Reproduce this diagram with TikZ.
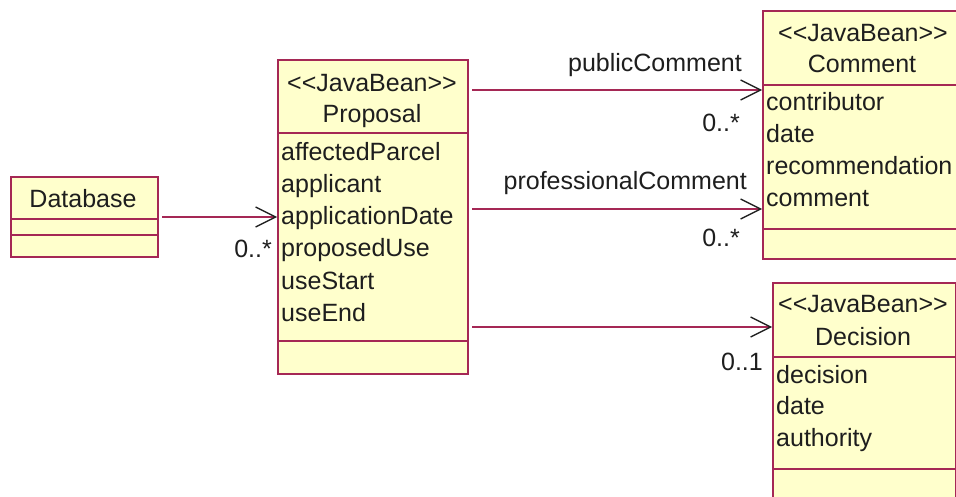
\documentclass[tikz,border=0pt]{standalone}
\usepackage{fontspec}
\setmainfont[Ligatures=NoCommon]{Liberation Sans}
\usetikzlibrary{arrows.meta}
\definecolor{umlred}{RGB}{165,40,85}
\definecolor{umlfill}{RGB}{255,255,204}
\definecolor{umltext}{RGB}{30,30,30}
\newcommand{\stereo}{<{}<JavaBean>{}>}
\begin{document}
\begin{tikzpicture}[x=1pt,y=-1pt,
  box/.style={draw=umlred, fill=umlfill, line width=2pt, rectangle, inner sep=0pt, anchor=north west},
  divider/.style={draw=umlred, line width=2pt},
  txt/.style={inner sep=0pt, text=umltext, font=\fontsize{25}{31}\selectfont},
  attr/.style={txt, anchor=base west},
  ctr/.style={txt, anchor=base},
  lbl/.style={txt, anchor=base east},
  assoc/.style={draw=umlred, line width=2pt, -{Straight Barb[length=20pt, width=20pt, line width=1.3pt, color=umltext]}}
]
\useasboundingbox (0,0) rectangle (956,497);
\fill[white] (0,0) rectangle (956,497);
\clip (0,0) rectangle (956,497);

% Database
\node[box, minimum width=147pt, minimum height=80pt] (db) at (10,176) {};
\draw[divider] (10,219) -- (157,219);
\draw[divider] (10,235) -- (157,235);
\node[ctr] (dbname) at (83,208) {Database};

% Proposal
\node[box, minimum width=190pt, minimum height=314pt] (prop) at (277,59) {};
\draw[divider] (277,133) -- (467,133);
\draw[divider] (277,341) -- (467,341);
\node[ctr] (propst) at (372,92) {\stereo};
\node[ctr] (propname) at (372,123) {Proposal};
\node[attr] (p1) at (281,161) {affectedParcel};
\node[attr] (p2) at (281,193) {applicant};
\node[attr] (p3) at (281,225) {applicationDate};
\node[attr] (p4) at (281,257) {proposedUse};
\node[attr] (p5) at (281,289) {useStart};
\node[attr] (p6) at (281,321) {useEnd};

% Comment (extends past the right edge)
\node[box, minimum width=240pt, minimum height=248pt] (com) at (762,10) {};
\draw[divider] (762,85) -- (1002,85);
\draw[divider] (762,229) -- (1002,229);
\node[ctr] (comst) at (863,42) {\stereo};
\node[ctr] (comname) at (862,73) {Comment};
\node[attr] (c1) at (766,111) {contributor};
\node[attr] (c2) at (766,143) {date};
\node[attr] (c3) at (766,175) {recommendation};
\node[attr] (c4) at (766,207) {comment};

% Decision
\node[box, minimum width=183pt, minimum height=230pt] (dec) at (772,282) {};
\draw[divider] (772,357) -- (955,357);
\draw[divider] (772,469) -- (955,469);
\node[ctr] (decst) at (863,312) {\stereo};
\node[ctr] (decname) at (863,345) {Decision};
\node[attr] (d1) at (776,383) {decision};
\node[attr] (d2) at (776,414) {date};
\node[attr] (d3) at (776,446) {authority};

% connector rows
\coordinate (r0) at (0,217);
\coordinate (r1) at (0,90);
\coordinate (r2) at (0,209);
\coordinate (r3) at (0,327);

\draw[assoc] ([xshift=3pt]db.east |- r0) -- (prop.west |- r0);
\draw[assoc] ([xshift=3pt]prop.east |- r1) -- (com.west |- r1);
\draw[assoc] ([xshift=3pt]prop.east |- r2) -- (com.west |- r2);
\draw[assoc] ([xshift=3pt]prop.east |- r3) -- (dec.west |- r3);

% labels
\node[lbl] (m0) at (272,258) {0..*};
\node[lbl] (l1) at (742,72) {publicComment};
\node[lbl] (m1) at (740,132) {0..*};
\node[lbl] (l2) at (747,190) {professionalComment};
\node[lbl] (m2) at (740,247) {0..*};
\node[lbl] (m3) at (763,370) {0..1};
\end{tikzpicture}
\end{document}
